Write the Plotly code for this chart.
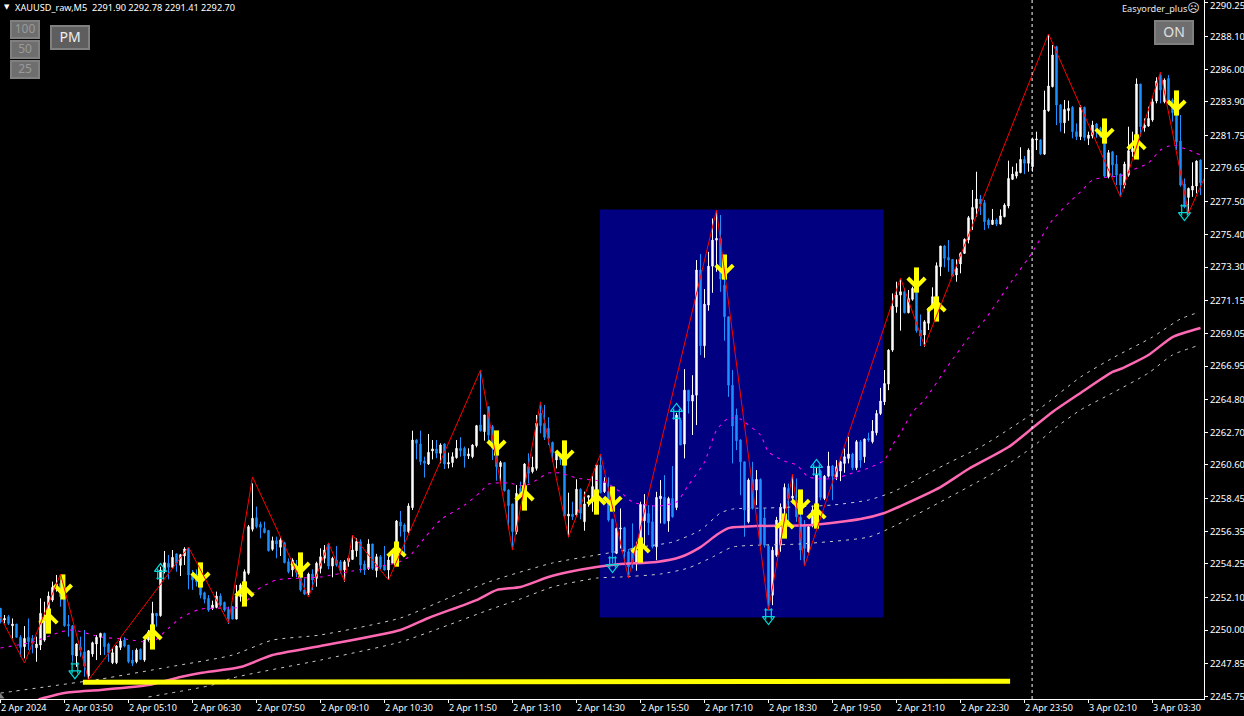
import plotly.graph_objects as go

opens = [
2251.40,2250.65,2250.86,2250.28,2250.39,2249.54,2248.94,2249.54,2249.47,2248.87,
2249.04,2249.36,2251.08,2251.93,2252.68,2253.00,2252.15,2250.37,2250.28,2248.34,
2248.94,2248.61,2247.05,2248.47,2249.11,2249.54,2249.79,2249.11,2247.91,2247.91,
2248.89,2249.36,2249.04,2248.08,2247.97,2248.76,2248.08,2249.36,2250.01,2251.08,
2250.93,2253.75,2254.29,2254.03,2254.89,2254.16,2254.76,2255.25,2253.54,2253.60,
2253.00,2252.40,2252.04,2251.40,2251.46,2252.19,2251.78,2251.33,2251.51,2250.71,
2252.15,2252.19,2253.65,2256.47,2257.22,2256.79,2256.53,2256.39,2255.19,2255.74,
2255.32,2255.61,2254.39,2253.86,2254.10,2253.65,2252.58,2252.36,2253.60,2253.32,
2253.96,2254.61,2255.51,2254.11,2254.50,2254.39,2253.86,2254.39,2254.54,2255.10,
2255.68,2254.24,2253.96,2255.53,2253.82,2254.71,2254.11,2253.86,2254.29,2254.71,
2256.94,2256.75,2256.32,2257.86,2262.20,2261.95,2260.86,2260.66,2261.50,2261.63,
2261.35,2261.95,2260.66,2260.75,2261.07,2261.67,2261.67,2261.18,2261.13,2261.84,
2263.17,2262.74,2264.34,2263.06,2261.67,2260.49,2260.75,2258.99,2258.10,2256.32,
2259.10,2258.89,2260.49,2260.17,2260.38,2263.92,2263.27,2262.95,2262.05,2260.92,
2261.13,2260.81,2257.32,2257.45,2257.39,2259.04,2256.96,2258.52,2258.24,2258.57,
2260.60,2258.89,2258.89,2257.11,2254.93,2256.50,2256.57,2255.03,2255.24,2254.28,
2255.67,2257.02,2257.49,2256.95,2255.35,2258.43,2258.52,2257.00,2258.45,2257.87,
2263.48,2261.94,2265.40,2264.70,2265.08,2273.11,2268.25,2270.86,2273.36,2275.03,
2275.14,2272.14,2270.11,2265.72,2263.80,2262.20,2260.80,2256.95,2259.67,2258.99,
2259.67,2257.20,2255.39,2252.24,2254.81,2255.45,2257.81,2259.09,2258.47,2258.34,
2257.27,2256.67,2255.03,2256.74,2257.87,2260.21,2258.45,2259.88,2260.53,2259.84,
2260.21,2260.70,2261.02,2261.30,2260.42,2262.09,2261.13,2262.30,2262.09,2262.67,
2263.90,2264.65,2265.79,2267.97,2270.75,2271.50,2271.72,2270.37,2271.23,2272.04,
2269.26,2268.94,2269.69,2270.65,2271.40,2273.32,2274.65,2273.92,2273.79,2272.79,
2273.50,2274.18,2275.04,2276.36,2277.07,2277.67,2277.43,2276.32,2276.04,2276.32,
2276.06,2276.53,2277.22,2278.93,2279.14,2279.36,2280.21,2279.96,2279.74,2281.46,
2281.46,2280.55,2283.34,2284.88,2287.44,2283.70,2282.56,2283.34,2283.55,2281.99,
2281.67,2283.55,2281.56,2281.71,2282.48,2282.20,2281.67,2279.10,2280.70,2279.91,
2279.27,2278.56,2279.20,2280.70,2281.02,2285.05,2282.24,2282.35,2282.74,2283.96,
2285.62,2283.91,2285.41,2284.02,2283.27,2281.39,2278.63,2277.77,2278.24,2278.50,
2280.17]

highs = [
2251.40,2250.97,2250.97,2250.75,2250.39,2249.68,2250.26,2250.75,2249.68,2249.58,
2252.04,2251.82,2252.47,2253.11,2253.54,2253.22,2252.36,2250.97,2250.33,2249.15,
2249.58,2250.01,2248.72,2249.26,2249.68,2249.83,2249.83,2249.19,2248.83,2249.04,
2249.47,2249.54,2249.04,2248.72,2248.83,2248.83,2249.36,2250.01,2251.82,2251.10,
2254.07,2255.08,2254.82,2255.14,2254.93,2254.89,2255.32,2255.30,2253.86,2253.90,
2253.22,2252.47,2252.25,2251.89,2252.47,2252.36,2251.83,2251.51,2251.55,2252.90,
2253.00,2253.90,2256.75,2259.42,2257.93,2256.96,2256.96,2256.43,2256.00,2256.00,
2255.94,2255.67,2254.61,2254.61,2254.50,2253.75,2253.32,2253.69,2253.90,2254.39,
2255.25,2255.46,2255.61,2254.71,2255.40,2254.50,2254.50,2254.71,2256.10,2255.89,
2255.83,2254.46,2255.83,2255.53,2254.89,2254.82,2255.40,2254.82,2255.03,2257.07,
2257.65,2256.85,2258.14,2262.80,2262.25,2262.80,2261.13,2262.59,2262.20,2262.20,
2261.99,2261.99,2261.39,2261.41,2262.20,2262.38,2261.78,2261.67,2261.93,2263.17,
2266.70,2263.81,2264.34,2263.17,2262.00,2260.86,2260.75,2259.04,2258.10,2259.31,
2259.53,2260.71,2261.35,2261.13,2263.81,2264.66,2264.45,2263.66,2262.10,2261.45,
2261.24,2260.92,2258.82,2258.24,2259.68,2259.10,2258.89,2258.67,2259.89,2260.66,
2261.31,2259.81,2259.81,2257.15,2256.59,2257.81,2256.63,2255.20,2256.85,2255.67,
2258.24,2258.73,2258.02,2258.02,2258.88,2259.63,2259.95,2258.56,2260.53,2263.95,
2263.60,2266.75,2265.40,2266.36,2273.75,2274.13,2271.89,2274.28,2276.42,2276.96,
2276.64,2272.64,2270.11,2266.69,2264.22,2262.25,2260.80,2259.74,2260.80,2260.27,
2259.74,2257.81,2255.50,2255.35,2257.27,2258.13,2259.41,2259.41,2259.95,2259.73,
2257.90,2257.06,2256.70,2258.00,2260.48,2260.30,2259.95,2261.45,2260.60,2260.91,
2260.87,2261.66,2262.41,2261.38,2262.20,2262.20,2262.30,2262.67,2263.48,2264.12,
2265.55,2266.69,2268.03,2271.61,2272.36,2272.51,2271.93,2271.83,2272.04,2272.04,
2270.26,2269.90,2270.71,2272.00,2273.60,2274.65,2274.71,2275.04,2273.81,2273.79,
2274.25,2275.14,2276.58,2278.25,2279.42,2277.92,2277.60,2276.43,2277.03,2276.43,
2277.00,2277.39,2280.13,2279.74,2279.96,2280.99,2280.43,2280.92,2281.61,2281.99,
2281.50,2284.62,2288.24,2287.55,2287.50,2283.77,2284.02,2283.98,2283.63,2282.52,
2283.70,2283.60,2281.99,2282.69,2282.55,2282.30,2281.70,2280.81,2280.75,2280.49,
2279.30,2280.06,2282.31,2281.99,2285.41,2285.05,2282.84,2283.59,2284.13,2285.48,
2285.77,2285.41,2285.62,2284.13,2283.81,2283.06,2278.99,2278.40,2280.02,2280.15,
2280.20]

lows = [
2250.43,2250.43,2250.33,2249.47,2249.54,2248.29,2248.19,2248.72,2248.51,2247.97,
2248.72,2249.26,2250.65,2251.82,2252.47,2251.50,2250.22,2249.58,2247.97,2247.65,
2248.29,2247.01,2246.84,2248.29,2248.08,2248.40,2248.40,2247.97,2247.82,2247.82,
2248.72,2248.89,2247.87,2247.69,2247.87,2248.08,2247.97,2249.26,2249.90,2250.22,
2250.86,2253.64,2253.26,2253.97,2253.75,2253.47,2254.18,2252.62,2252.58,2252.80,
2252.04,2251.72,2251.18,2251.29,2251.40,2251.51,2251.18,2250.39,2250.69,2250.69,
2251.83,2252.04,2253.55,2256.33,2256.53,2255.89,2256.21,2255.04,2255.10,2254.61,
2254.76,2254.29,2253.64,2253.43,2253.40,2252.47,2252.25,2252.25,2252.57,2252.79,
2253.64,2254.29,2253.90,2253.39,2254.07,2253.64,2253.11,2254.07,2254.50,2254.71,
2253.69,2253.54,2253.86,2253.86,2253.39,2253.90,2253.82,2253.22,2254.29,2254.29,
2256.00,2254.71,2256.21,2257.71,2260.96,2260.60,2259.79,2260.60,2260.96,2261.03,
2260.71,2260.34,2260.38,2260.45,2261.00,2261.13,2260.43,2260.98,2261.03,2261.73,
2262.74,2262.16,2262.10,2260.92,2259.59,2259.53,2258.89,2256.53,2255.18,2256.15,
2258.46,2257.92,2259.42,2260.06,2260.24,2262.63,2262.20,2261.88,2260.81,2260.38,
2260.60,2257.24,2255.96,2257.07,2257.28,2257.11,2256.38,2257.92,2257.60,2258.35,
2258.78,2258.80,2256.96,2254.29,2254.88,2255.24,2254.28,2253.42,2253.96,2253.81,
2255.24,2255.35,2256.10,2255.24,2254.49,2256.85,2256.80,2256.31,2257.21,2257.70,
2261.88,2261.02,2263.90,2262.52,2263.16,2267.65,2267.48,2270.50,2271.65,2273.00,
2271.71,2268.57,2264.97,2260.70,2261.55,2258.66,2255.99,2256.85,2257.74,2258.02,
2255.40,2255.30,2251.28,2251.60,2254.71,2255.03,2255.99,2256.95,2258.13,2256.95,
2254.49,2254.13,2254.95,2256.60,2257.27,2258.34,2258.34,2259.80,2258.34,2259.63,
2259.56,2260.10,2260.70,2260.27,2260.27,2260.42,2260.74,2262.09,2261.98,2262.50,
2263.80,2264.44,2265.40,2267.86,2270.37,2269.22,2270.33,2270.33,2271.14,2269.09,
2268.23,2268.19,2269.26,2270.58,2270.01,2272.72,2273.28,2273.00,2272.68,2272.36,
2272.90,2274.14,2274.82,2275.68,2276.53,2276.64,2275.68,2275.78,2276.00,2275.93,
2276.02,2276.49,2277.07,2278.89,2278.99,2279.32,2279.27,2279.42,2279.42,2280.81,
2280.49,2280.49,2283.27,2284.83,2282.41,2281.99,2281.88,2282.69,2281.56,2281.45,
2281.45,2281.41,2281.13,2281.56,2281.60,2281.60,2279.05,2278.99,2279.10,2278.56,
2277.81,2278.35,2279.10,2280.38,2280.49,2281.67,2281.99,2282.31,2282.63,2283.81,
2283.81,2283.81,2283.70,2282.63,2280.81,2278.46,2277.07,2276.74,2277.81,2278.03,
2277.92]

closes = [
2250.54,2250.75,2250.43,2250.39,2249.54,2248.89,2249.47,2249.26,2249.15,2249.11,
2251.08,2250.65,2252.19,2252.75,2252.96,2252.15,2250.28,2250.28,2248.40,2249.11,
2248.72,2247.69,2248.68,2249.19,2249.54,2249.79,2248.94,2248.55,2248.55,2248.98,
2249.30,2248.98,2247.97,2247.87,2248.72,2248.12,2249.36,2249.90,2251.08,2250.91,
2253.86,2254.33,2254.03,2254.67,2254.29,2254.84,2255.21,2253.54,2253.22,2253.10,
2252.25,2251.98,2251.29,2251.61,2252.19,2251.61,2251.29,2250.71,2250.71,2252.19,
2252.90,2253.75,2256.64,2257.18,2256.64,2256.60,2256.26,2255.10,2255.74,2255.53,
2255.79,2254.33,2253.75,2254.50,2253.70,2252.58,2252.32,2253.60,2253.22,2254.29,
2254.71,2255.14,2254.11,2254.61,2254.18,2253.82,2254.39,2254.61,2255.14,2255.68,
2254.18,2253.86,2255.53,2253.96,2254.71,2254.03,2253.86,2254.50,2255.03,2257.00,
2256.68,2256.32,2257.97,2262.20,2261.99,2260.81,2260.71,2261.41,2261.63,2261.35,
2261.88,2260.66,2260.75,2261.13,2261.67,2261.52,2261.18,2261.31,2261.88,2263.12,
2262.80,2263.81,2262.52,2261.67,2260.49,2260.75,2258.95,2257.99,2256.32,2258.78,
2258.78,2260.66,2260.06,2260.45,2263.27,2263.12,2262.38,2262.31,2261.39,2261.35,
2260.92,2257.32,2257.45,2257.28,2259.04,2257.50,2258.10,2258.63,2259.21,2260.60,
2258.82,2259.46,2257.07,2254.97,2256.53,2256.55,2255.03,2254.06,2254.28,2255.13,
2258.07,2258.07,2256.89,2255.35,2258.52,2258.60,2256.85,2258.45,2257.27,2263.80,
2261.88,2265.40,2264.70,2265.08,2273.11,2268.25,2270.92,2273.36,2275.03,2275.14,
2272.53,2270.11,2265.72,2263.10,2262.15,2260.80,2257.70,2259.63,2257.81,2259.67,
2255.50,2255.45,2251.71,2255.13,2257.06,2257.87,2259.16,2258.45,2258.60,2257.27,
2255.13,2255.24,2256.63,2257.70,2259.95,2258.52,2259.88,2260.53,2259.88,2260.48,
2260.80,2261.13,2261.30,2260.42,2262.09,2260.91,2262.26,2262.20,2262.77,2263.90,
2264.70,2265.83,2267.97,2270.79,2271.50,2271.72,2270.37,2271.29,2271.93,2269.22,
2268.87,2269.79,2270.65,2271.40,2273.39,2274.65,2273.86,2273.75,2272.72,2273.22,
2274.18,2275.08,2276.47,2277.13,2277.67,2277.35,2276.21,2276.00,2276.32,2276.06,
2276.58,2277.28,2278.99,2279.27,2279.42,2280.21,2279.96,2280.81,2281.52,2281.52,
2280.56,2283.38,2284.92,2286.91,2283.70,2282.56,2283.42,2283.48,2281.99,2281.67,
2283.55,2281.62,2281.77,2282.41,2282.05,2281.67,2279.14,2280.64,2279.85,2279.20,
2278.56,2279.91,2280.77,2280.92,2285.05,2282.31,2282.41,2282.84,2283.91,2285.24,
2284.66,2285.30,2283.91,2283.21,2281.34,2278.56,2277.17,2278.35,2278.50,2280.10,
2278.71]

assert len(opens) == len(highs) == len(lows) == len(closes) == 301
bar_index = list(range(len(opens)))

zigzag_i = [0,6,15,22,47,57,63,77,82,86,88,97,120,128,135,142,150,157,179,192,198,201,225,231,262,280,290,297,301]
zigzag_p = [2250.84,2247.89,2253.60,2246.80,2255.33,2250.46,2259.83,2252.12,2255.59,2253.15,2256.10,2253.22,
            2266.69,2255.14,2264.64,2255.98,2261.30,2253.34,2276.96,2251.29,2260.02,2254.11,2272.60,2268.23,
            2288.26,2277.80,2285.82,2276.77,2279.02]

fast_i = [0,8,15,18,25,31,38,41,45,50,56,60,64,69,75,80,88,92,99,102,106,110,116,120,122,127,131,134,137,140,144,151,155,158,
          164,169,172,176,179,182,185,186,190,192,196,199,202,206,209,213,217,221,223,225,228,231,237,242,246,253,257,263,267,270,273,277,280,283,287,290,293,297,300]
fast_p = [2248.85,2249.24,2249.88,2250.01,2249.56,2249.43,2249.24,2249.88,2250.78,2251.35,2251.42,2251.48,2252.57,2253.22,2253.34,2253.41,
          2253.79,2253.99,2254.31,2254.69,2255.91,2257.07,2258.03,2258.86,2259.38,2259.44,2259.25,2259.63,2260.08,2260.08,2259.76,2259.51,
          2258.86,2258.22,2257.96,2258.22,2259.31,2260.79,2262.84,2263.61,2263.55,2263.36,2262.52,2261.43,2260.85,2260.60,2259.83,2259.70,
          2259.76,2260.08,2260.40,2260.92,2261.88,2262.65,2264.00,2264.77,2267.01,2268.75,2269.90,2272.47,2273.88,2276.32,2277.41,2278.12,
          2278.89,2279.08,2279.14,2279.53,2279.98,2280.81,2281.13,2280.81,2280.49]

slow_i = [9.5,16,25,37,45,50,60,68,80,100,107,119,124,130,137,142,149,155,164,170,175,179,182,189,203,215,221,225,235,242,252,258,263,270,278,280,287,293,300]
slow_p = [2245.55,2245.96,2246.16,2246.48,2246.99,2247.25,2247.63,2248.40,2248.98,2250.01,2250.78,2251.93,2252.57,2252.77,2253.41,2253.73,
          2254.05,2254.24,2254.37,2254.69,2255.33,2256.10,2256.55,2256.68,2256.75,2257.13,2257.52,2257.96,2259.18,2260.34,2261.75,2262.97,
          2264.00,2265.22,2266.57,2266.76,2267.66,2268.81,2269.39]

upper_i = [0,11,25,42,58,68,80,100,112,122,138,149,155,160,168,175,180,183,192,208,217,223,236,245,253,260,270,278,288,295,299]
upper_p = [2245.96,2246.35,2246.86,2247.63,2248.40,2249.36,2249.69,2250.78,2252.06,2253.09,2254.31,2254.82,2255.08,2255.33,2255.65,2256.42,
           2257.52,2257.77,2257.84,2258.03,2258.35,2258.86,2260.60,2261.75,2263.04,2264.25,2266.24,2267.46,2268.81,2269.97,2270.35]

lower_i = [37,53,58,80,100,112,122,130,138,149,155,165,172,178,183,200,217,223,250,258,263,270,278,287,293,299]
lower_p = [2245.71,2246.48,2246.93,2248.08,2249.24,2250.33,2251.29,2252.00,2252.77,2253.34,2253.41,2253.60,2253.99,2254.69,2255.33,2255.53,
           2255.97,2256.62,2260.34,2261.75,2262.84,2264.13,2265.22,2266.50,2267.66,2268.23]

yellow_up_i = [12,38,61,99,131,149,160,196,204,234,284]
yellow_up_p = [2250.58,2249.56,2252.32,2254.88,2258.48,2258.22,2255.14,2256.68,2257.32,2270.61,2281.01]
yellow_dn_i = [15.6,50,75,124,141,153,181,200,229,276,294]
yellow_dn_p = [2252.77,2253.54,2254.18,2262.01,2261.37,2258.41,2273.30,2258.22,2272.47,2282.03,2283.83]
cyan_up_i = [40,169,204]
cyan_up_p = [2253.79,2264.06,2260.47]
cyan_dn_i = [18.6,153,192,296]
cyan_dn_p = [2247.37,2254.18,2250.84,2276.77]

level_i = [20.6,136,136,252.4]
level_p = [2246.66,2246.66,2246.72,2246.72]
shift_i = [0]
shift_p = [2245.72]

tick_bars = [k*16 for k in range(19)]
tick_text = ["2 Apr 2024","2 Apr 03:50","2 Apr 05:10","2 Apr 06:30","2 Apr 07:50","2 Apr 09:10","2 Apr 10:30",
             "2 Apr 11:50","2 Apr 13:10","2 Apr 14:30","2 Apr 15:50","2 Apr 17:10","2 Apr 18:30","2 Apr 19:50",
             "2 Apr 21:10","2 Apr 22:30","2 Apr 23:50","3 Apr 02:10","3 Apr 03:30"]
price_ticks = [2290.25,2288.10,2286.00,2283.90,2281.75,2279.65,2277.50,2275.40,2273.30,2271.15,2269.05,
               2266.95,2264.80,2262.70,2260.60,2258.45,2256.35,2254.25,2252.10,2250.00,2247.85,2245.75]

W, H, PW, PH = 1244, 716, 1204, 699
FONT = "Noto Sans"
PRICE_PER_PX = (2290.44 - 2245.58) / PH
BAR_PX = 4.0
def px(x): return x / PW
def py(y): return 1 - y / PH

fig = go.Figure()

def stroke(xs, ys, dx_px, dy_px, symbol, size, width, color):
    """Place one stroke of an arrow glyph, offset in pixels from each arrow's centre."""
    fig.add_trace(go.Scatter(
        x=[v + dx_px / BAR_PX for v in xs], y=[v - dy_px * PRICE_PER_PX for v in ys], mode="markers",
        marker=dict(symbol=symbol, size=size, color=color, line=dict(color=color, width=width))))

def solid_arrow(xs, ys, d):
    # d = +1 for an up arrow (head on top), -1 for a down arrow
    c = "#ffff00"
    stroke(xs, ys, 0, 0, "line-ns", 18, 5, c)
    stroke(xs, ys, -4.2, -2.5 * d, "line-ne" if d > 0 else "line-nw", 9, 4, c)
    stroke(xs, ys, 4.2, -2.5 * d, "line-nw" if d > 0 else "line-ne", 9, 4, c)

def hollow_arrow(xs, ys, d):
    c = "#00d8d8"
    stroke(xs, ys, 0, -2.3 * d, "triangle-up-open" if d > 0 else "triangle-down-open", 10.5, 1.2, c)
    stroke(xs, ys, -2.8, 3.2 * d, "line-ns", 8, 1.2, c)
    stroke(xs, ys, 2.8, 3.2 * d, "line-ns", 8, 1.2, c)
    stroke(xs, ys, 0, 7.2 * d, "line-ew", 6, 1.2, c)

fig.add_trace(go.Scatter(x=upper_i, y=upper_p, mode="lines", line=dict(color="#c8c8c8", width=1, dash="3px,5px", shape="spline", smoothing=0.6)))
fig.add_trace(go.Scatter(x=lower_i, y=lower_p, mode="lines", line=dict(color="#c8c8c8", width=1, dash="3px,5px", shape="spline", smoothing=0.6)))
fig.add_trace(go.Scatter(x=slow_i, y=slow_p, mode="lines", line=dict(color="#ff69b4", width=2.5, shape="spline", smoothing=0.6)))
fig.add_trace(go.Candlestick(x=bar_index, open=opens, high=highs, low=lows, close=closes,
    increasing=dict(line=dict(color="#ffffff", width=1), fillcolor="#ffffff"),
    decreasing=dict(line=dict(color="#1e90ff", width=1), fillcolor="#1e90ff"),
    whiskerwidth=0))
fig.add_trace(go.Scatter(x=level_i, y=level_p, mode="lines", line=dict(color="#ffff00", width=5)))
fig.add_trace(go.Scatter(x=fast_i, y=fast_p, mode="lines", line=dict(color="#ff00ff", width=1.1, dash="3px,5px", shape="spline", smoothing=0.6)))
solid_arrow(yellow_up_i, yellow_up_p, 1)
solid_arrow(yellow_dn_i, yellow_dn_p, -1)
hollow_arrow(cyan_up_i, cyan_up_p, 1)
hollow_arrow(cyan_dn_i, cyan_dn_p, -1)
fig.add_trace(go.Scatter(x=zigzag_i, y=zigzag_p, mode="lines", line=dict(color="#ff0000", width=1)))
fig.add_trace(go.Scatter(x=shift_i, y=shift_p, mode="markers", marker=dict(symbol="triangle-up", size=7, color="#808080")))

shapes = [
    dict(type="rect", layer="below", xref="x", yref="y", x0=149.875, x1=220.75, y0=2250.81, y1=2276.99,
         fillcolor="#000080", line=dict(width=0)),
    dict(type="line", layer="above", xref="x", yref="paper", x0=257.9, x1=257.9, y0=0, y1=1,
         line=dict(color="#ffffff", width=1, dash="3px,3px")),
]
def button(x0, y0, x1, y1, text, size, col, fill):
    shapes.append(dict(type="rect", layer="above", xref="paper", yref="paper",
        x0=px(x0), x1=px(x1), y0=py(y1), y1=py(y0), fillcolor=fill, line=dict(color="#808080", width=2),
        label=dict(text=text, font=dict(family=FONT, size=size, color=col), textposition="middle center")))
button(11, 21, 39, 38, "100", 12, "#9a9a9a", "#6e6e6e")
button(11, 41, 39, 58, "50", 12, "#9a9a9a", "#6e6e6e")
button(11, 61, 39, 78, "25", 12, "#9a9a9a", "#6e6e6e")
button(51, 26, 89, 49, "PM", 14, "#f0f0f0", "#5e5e5e")
button(1155, 21, 1193, 44, "ON", 14, "#e0e0e0", "#6e6e6e")

annotations = [
    dict(xref="paper", yref="paper", x=px(2), y=py(7), xanchor="left", yanchor="middle", showarrow=False,
         text="▼", font=dict(family="DejaVu Sans", size=7, color="#ffffff")),
    dict(xref="paper", yref="paper", x=px(13), y=py(7), xanchor="left", yanchor="middle", showarrow=False,
         text="XAUUSD_raw,M5  2291.90 2292.78 2291.41 2292.70", font=dict(family=FONT, size=9.2, color="#ffffff")),
    dict(xref="paper", yref="paper", x=px(1202), y=py(8), xanchor="right", yanchor="middle", showarrow=False,
         text="Easyorder_plus<span style='font-family:DejaVu Sans;font-size:12px'>☹</span>",
         font=dict(family=FONT, size=9.2, color="#e8e8e8")),
    # The top price label sits at the very edge of the page, where the axis itself would hide it.
    dict(xref="paper", yref="paper", x=px(1208), y=py(6), xanchor="left", yanchor="middle", showarrow=False,
         text=f"{price_ticks[0]:.2f}", font=dict(family=FONT, size=9.5, color="#ffffff")),
]

fig.update_layout(
    width=W, height=H, margin=dict(l=0, r=W-PW, t=0, b=H-PH, pad=0),
    paper_bgcolor="#000000", plot_bgcolor="#000000", showlegend=False, boxgap=0.5,
    shapes=shapes, annotations=annotations, hovermode=False,
    xaxis=dict(range=[-0.125, 300.875], rangeslider=dict(visible=False), showgrid=False, zeroline=False,
        showline=True, linecolor="#ffffff", linewidth=1, ticks="outside", ticklen=3, tickcolor="#ffffff",
        tickvals=[t-0.125 for t in tick_bars], ticktext=tick_text, ticklabelposition="outside right",
        tickfont=dict(family=FONT, size=9, color="#ffffff")),
    yaxis=dict(range=[2245.58, 2290.44], side="right", showgrid=False, zeroline=False, showline=True,
        linecolor="#ffffff", linewidth=1, ticks="outside", ticklen=3, tickcolor="#ffffff",
        tickvals=price_ticks, tickformat=".2f", tickfont=dict(family=FONT, size=9.5, color="#ffffff")),
)
fig.write_html("out.html", config={"displayModeBar": False},
               post_script="document.body.style.margin='0';document.body.style.background='#000';")
